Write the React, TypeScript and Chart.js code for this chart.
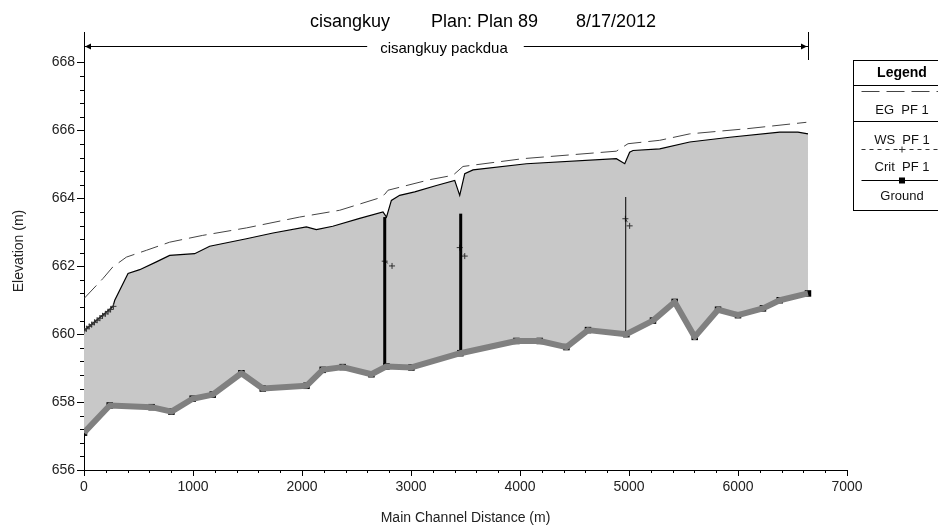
import React, { useEffect, useRef } from 'react';
import { Chart, registerables } from 'chart.js';

Chart.register(...registerables);

// ---------- data ----------
const groundDist = [0, 236, 620, 802, 997, 1181, 1444, 1640, 2041, 2190, 2373, 2637, 2775, 3004, 3453, 3967, 4181, 4426, 4624, 4976, 5220, 5419, 5603, 5817, 6000, 6229, 6383, 6642];
const groundElev = [657.1, 657.9, 657.85, 657.72, 658.1, 658.22, 658.85, 658.4, 658.48, 658.95, 659.03, 658.82, 659.05, 659.02, 659.44, 659.8, 659.8, 659.62, 660.12, 660.0, 660.4, 660.95, 659.92, 660.72, 660.56, 660.76, 661.0, 661.2];

const wsDist = [0, 266, 282, 404, 511, 664, 786, 1015, 1153, 1490, 1734, 2040, 2132, 2282, 2529, 2743, 2775, 2820, 2896, 3034, 3233, 3401, 3447, 3493, 3569, 4059, 4884, 4961, 5006, 5037, 5282, 5557, 5924, 6383, 6550, 6642];
const wsElev = [660.1, 660.82, 661.0, 661.79, 661.9, 662.13, 662.32, 662.37, 662.59, 662.81, 662.98, 663.16, 663.08, 663.18, 663.41, 663.6, 663.45, 663.94, 664.09, 664.19, 664.38, 664.53, 664.09, 664.73, 664.84, 665.02, 665.17, 665.02, 665.36, 665.41, 665.46, 665.66, 665.8, 665.95, 665.95, 665.9];

const egDist = [0, 174, 264, 389, 572, 786, 1089, 1490, 1979, 2346, 2697, 2759, 2789, 3171, 3385, 3477, 4028, 4884, 4991, 5282, 5557, 6077, 6627];
const egElev = [661.05, 661.64, 661.98, 662.27, 662.47, 662.71, 662.91, 663.13, 663.45, 663.65, 664.0, 664.12, 664.24, 664.55, 664.68, 664.94, 665.17, 665.39, 665.61, 665.71, 665.9, 666.05, 666.24];

const critDist = [0, 22, 48, 70, 96, 120, 146, 170, 196, 220, 244, 270, 1000, 2759, 2826, 3000, 3447, 3493, 4000, 4967, 5006];
const critElev = [660.1, 660.16, 660.23, 660.28, 660.35, 660.41, 660.47, 660.54, 660.6, 660.66, 660.73, 660.82, null, 662.15, 662.01, null, 662.55, 662.3, null, 663.4, 663.19];

const bridgeDist = [2759, 3456, 4970];
const bridgeTop = [663.45, 663.55, 664.04];
const bridgeLow = [659.05, 659.44, 660.0];

const xTickValues = [0, 1000, 2000, 3000, 4000, 5000, 6000, 7000];
const yTickValues = [656, 658, 660, 662, 664, 666, 668];

const titleParts = ['cisangkuy', 'Plan: Plan 89', '8/17/2012'];
const reachName = 'cisangkuy packdua';
const reachStart = 0;
const reachEnd = 6642;
const legendLabels = ['EG  PF 1', 'WS  PF 1', 'Crit  PF 1', 'Ground'];

// ---------- styles ----------
const FONT = '"Liberation Sans", Arial, sans-serif';
const bridgeWidths = [3, 3, 1];

const pts = (xs: number[], ys: (number | null)[]) => xs.map((x, i) => ({ x, y: ys[i] }));

const decorPlugin = {
  id: 'decor',
  afterDraw(chart: any) {
    const { ctx, chartArea: ca, scales } = chart;
    const x = scales.x;
    const y = scales.y;
    ctx.save();
    // minor ticks
    ctx.strokeStyle = '#000';
    ctx.lineWidth = 1;
    ctx.beginPath();
    for (let k = 1; k < 35; k++) {
      if (k % 5 === 0) continue;
      const px = Math.round(x.getPixelForValue(k * 200)) + 0.5;
      ctx.moveTo(px, ca.bottom);
      ctx.lineTo(px, ca.bottom + 3);
    }
    for (let k = 1; k < 30; k++) {
      if (k % 5 === 0) continue;
      const py = Math.round(y.getPixelForValue(656 + k * 0.4)) + 0.5;
      ctx.moveTo(ca.left - 4, py);
      ctx.lineTo(ca.left, py);
    }
    ctx.stroke();

    // title
    ctx.fillStyle = '#000';
    ctx.font = `18px ${FONT}`;
    ctx.textAlign = 'left';
    ctx.textBaseline = 'alphabetic';
    const tx = [310, 431, 576];
    titleParts.forEach((t, i) => ctx.fillText(t, tx[i], 27));

    // reach annotation
    const yl = ca.top + 14.5;
    const xs = x.getPixelForValue(reachStart);
    const xe = x.getPixelForValue(reachEnd);
    ctx.font = `15px ${FONT}`;
    const tw = ctx.measureText(reachName).width;
    const tc = (xs + xe) / 2 - 2;
    ctx.fillText(reachName, tc - tw / 2, yl + 6);
    ctx.beginPath();
    ctx.moveTo(xs, yl);
    ctx.lineTo(tc - tw / 2 - 13, yl);
    ctx.moveTo(tc + tw / 2 + 16, yl);
    ctx.lineTo(xe, yl);
    ctx.moveTo(Math.round(xe) + 0.5, ca.top);
    ctx.lineTo(Math.round(xe) + 0.5, ca.top + 28);
    ctx.stroke();
    ctx.beginPath();
    ctx.moveTo(xs + 1, yl);
    ctx.lineTo(xs + 7, yl - 3);
    ctx.lineTo(xs + 7, yl + 3);
    ctx.closePath();
    ctx.moveTo(xe - 1, yl);
    ctx.lineTo(xe - 7, yl - 3);
    ctx.lineTo(xe - 7, yl + 3);
    ctx.closePath();
    ctx.fill();

    // legend box
    const bl = 853.5, bt = 60.5, br = 960, bb = 210.5, cx = 902;
    ctx.strokeStyle = '#000';
    ctx.lineWidth = 1;
    ctx.strokeRect(bl, bt, br - bl, bb - bt);
    ctx.beginPath();
    ctx.moveTo(bl, 85.5);
    ctx.lineTo(br, 85.5);
    ctx.stroke();
    ctx.textAlign = 'center';
    ctx.textBaseline = 'middle';
    ctx.font = `bold 14px ${FONT}`;
    ctx.fillText('Legend', cx, 73.5);
    ctx.font = `13px ${FONT}`;
    const lineYs = [91.5, 121.5, 149.5, 180.5];
    const textYs = [110, 140, 167, 196];
    // EG sample
    ctx.strokeStyle = '#444';
    ctx.setLineDash([18, 7]);
    ctx.beginPath();
    ctx.moveTo(bl + 8, lineYs[0]);
    ctx.lineTo(br, lineYs[0]);
    ctx.stroke();
    // WS sample
    ctx.setLineDash([]);
    ctx.strokeStyle = '#000';
    ctx.beginPath();
    ctx.moveTo(bl, lineYs[1]);
    ctx.lineTo(br, lineYs[1]);
    ctx.stroke();
    // Crit sample
    ctx.setLineDash([4, 4]);
    ctx.strokeStyle = '#333';
    ctx.beginPath();
    ctx.moveTo(bl + 8, lineYs[2]);
    ctx.lineTo(br, lineYs[2]);
    ctx.stroke();
    ctx.setLineDash([]);
    ctx.beginPath();
    ctx.moveTo(cx - 3, lineYs[2]);
    ctx.lineTo(cx + 3, lineYs[2]);
    ctx.moveTo(cx, lineYs[2] - 3);
    ctx.lineTo(cx, lineYs[2] + 3);
    ctx.stroke();
    // Ground sample
    ctx.strokeStyle = '#000';
    ctx.beginPath();
    ctx.moveTo(bl + 8, lineYs[3]);
    ctx.lineTo(br, lineYs[3]);
    ctx.stroke();
    ctx.fillRect(cx - 3, lineYs[3] - 3, 6, 6);
    ctx.fillStyle = '#111';
    legendLabels.forEach((t, i) => ctx.fillText(t, cx, textYs[i]));
    ctx.restore();
  },
};

export default function App() {
  const ref = useRef<HTMLCanvasElement | null>(null);
  useEffect(() => {
    document.body.style.margin = '0';
    const canvas = ref.current;
    if (!canvas) return;
    const tickFont = { family: FONT, size: 14 };
    const plain = (v: any) => String(v);
    const datasets: any[] = [
      {
        label: 'Ground',
        data: pts(groundDist, groundElev),
        borderColor: '#808080',
        borderWidth: 6,
        borderJoinStyle: 'round',
        pointRadius: 0,
        fill: false,
      },
      {
        label: 'GroundPts',
        data: pts(groundDist, groundElev),
        showLine: false,
        pointStyle: 'rect',
        pointRadius: 4.6,
        pointBackgroundColor: '#000',
        pointBorderWidth: 0,
        fill: false,
      },
      ...bridgeDist.map((d, i) => ({
        label: 'Bridge' + i,
        data: [{ x: d, y: bridgeLow[i] }, { x: d, y: bridgeTop[i] }],
        borderColor: '#000',
        borderWidth: bridgeWidths[i],
        pointRadius: 0,
        fill: false,
      })),
      {
        label: 'Crit PF 1',
        data: pts(critDist, critElev),
        borderColor: '#444',
        borderWidth: 1,
        borderDash: [4, 4],
        pointStyle: 'cross',
        pointRadius: 3,
        pointBorderColor: '#333',
        pointBorderWidth: 1,
        spanGaps: false,
        fill: false,
      },
      {
        label: 'EG PF 1',
        data: pts(egDist, egElev),
        borderColor: '#444',
        borderWidth: 1,
        borderDash: [18, 7],
        pointRadius: 0,
        fill: false,
      },
      {
        label: 'WS PF 1',
        data: pts(wsDist, wsElev),
        borderColor: '#000',
        borderWidth: 1.2,
        pointRadius: 0,
        backgroundColor: '#c8c8c8',
        fill: 0,
      },
    ];
    const chart = new Chart(canvas, {
      type: 'line',
      data: { datasets },
      options: {
        animation: false,
        responsive: false,
        devicePixelRatio: 1,
        layout: { padding: { left: 0, top: 32, right: 91, bottom: 0 } },
        elements: { line: { tension: 0 } },
        plugins: {
          legend: { display: false },
          title: { display: false },
          tooltip: { enabled: false },
        },
        scales: {
          x: {
            type: 'linear',
            min: 0,
            max: 7000,
            afterBuildTicks: (s: any) => {
              s.ticks = xTickValues.map((v) => ({ value: v }));
            },
            afterFit: (s: any) => {
              s.height = 58;
            },
            ticks: { font: tickFont, color: '#222', padding: 3, maxRotation: 0, autoSkip: false, callback: plain },
            grid: { drawOnChartArea: false, color: '#000', tickLength: 6 },
            border: { display: true, color: '#000', width: 1 },
            title: {
              display: true,
              text: 'Main Channel Distance (m)',
              font: tickFont,
              color: '#222',
              padding: { top: 0, bottom: 1 },
            },
          },
          y: {
            type: 'linear',
            min: 656,
            max: 668.9,
            afterBuildTicks: (s: any) => {
              s.ticks = yTickValues.map((v) => ({ value: v }));
            },
            afterFit: (s: any) => {
              s.width = 84;
            },
            ticks: { font: tickFont, color: '#222', padding: 2, autoSkip: false, callback: plain },
            grid: { drawOnChartArea: false, color: '#000', tickLength: 7 },
            border: { display: true, color: '#000', width: 1 },
            title: {
              display: true,
              text: 'Elevation (m)',
              font: tickFont,
              color: '#222',
              padding: { top: 11, bottom: 0 },
            },
          },
        },
      },
      plugins: [decorPlugin],
    });
    return () => chart.destroy();
  }, []);
  return (
    <div style={{ width: 938, height: 528 }}>
      <canvas ref={ref} width={938} height={528} style={{ display: 'block' }} />
    </div>
  );
}
